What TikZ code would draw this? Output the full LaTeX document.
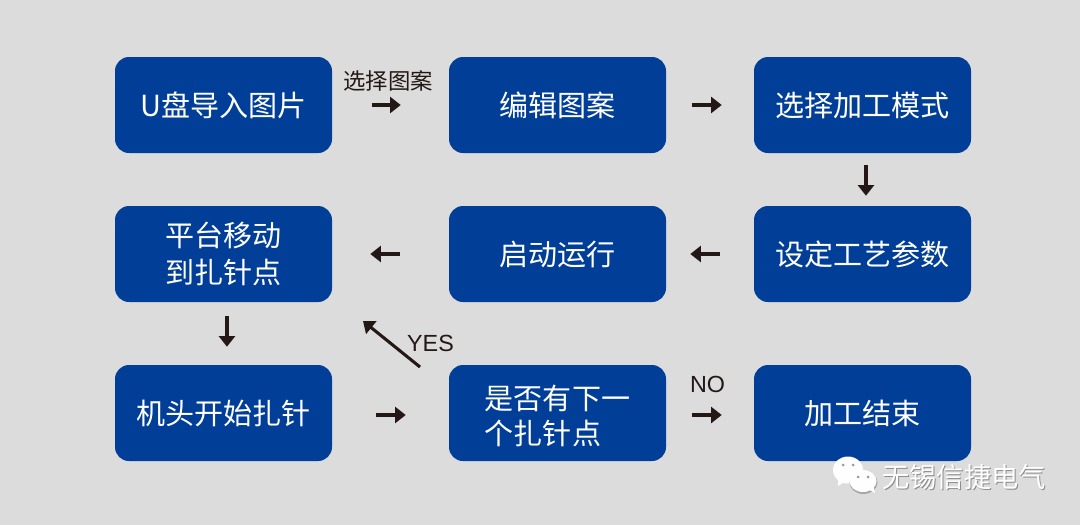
\documentclass[tikz,border=0pt]{standalone}
\usepackage{fontspec}
\setmainfont{Noto Sans CJK SC}
\newfontfamily\latinf{Liberation Sans}
\usetikzlibrary{arrows.meta}
\definecolor{bg}{HTML}{DCDCDC}
\definecolor{boxblue}{HTML}{003E98}
\definecolor{ink}{HTML}{231815}
\newcommand{\lowered}[2]{\raisebox{#1}[\height][\depth]{#2}}
\tikzset{
  x=0.75pt,y=-0.75pt,
  stepbox/.style={draw=none,fill=boxblue,rounded corners=10.5pt,minimum width=162.75pt,minimum height=72pt,inner sep=0pt,text=white,font=\fontsize{21.8pt}{28pt}\selectfont,align=center},
  flow/.style={draw=ink,line width=2.3pt,-{Triangle[length=8pt,width=12pt]}},
  small/.style={text=ink,inner sep=0pt,font=\fontsize{16.8pt}{20pt}\selectfont},
  latin/.style={text=ink,inner sep=0pt,font=\latinf\fontsize{17.5pt}{20pt}\selectfont},
  wm/.style={inner sep=0pt,font=\fontsize{20.5pt}{24pt}\selectfont},
  bubble/.style={fill=white!96!bg,draw=none},
  gap/.style n args={2}{shorten <=#1*0.75pt,shorten >=#2*0.75pt},
}
\begin{document}
\begin{tikzpicture}
\useasboundingbox (0,0) rectangle (1080,525);
\fill[bg] (0,0) rectangle (1080,525);
\node[stepbox] (a) at (223.5,105) {U盘导入图片};
\node[stepbox] (b) at (557.5,105) {编辑图案};
\node[stepbox] (c) at (862.5,105) {选择加工模式};
\node[stepbox] (d) at (862.5,254) {设定工艺参数};
\node[stepbox] (e) at (557.5,254) {启动运行};
\node[stepbox] (f) at (223.5,254) {平台移动\\到扎针点};
\node[stepbox] (g) at (223.5,413) {机头开始扎针};
\node[stepbox,align=left] (h) at (557.5,413) {\lowered{-3pt}{是否有下一}\\\lowered{-1.5pt}{个扎针点}};
\node[stepbox] (i) at (862.5,413) {加工结束};
\node[small] (l1) at (388,81) {选择图案};
\node[latin] (l2) at (430.5,343) {YES};
\node[latin] (l3) at (707.5,384) {NO};
\coordinate (yesfrom) at (420,367);
\coordinate (yesto) at (363,321);
\draw[flow,gap={40}{48}] (a.east) -- (b.west);
\draw[flow,gap={26}{32}] (b.east) -- (c.west);
\draw[flow,gap={12}{10},transform canvas={xshift=2.6pt}] (c.south) -- (d.north);
\draw[flow,gap={34}{24}] (d.west) -- (e.east);
\draw[flow,gap={49}{38}] (e.west) -- (f.east);
\draw[flow,gap={14}{18},transform canvas={xshift=2.6pt}] (f.south) -- (g.north);
\draw[flow,gap={44}{43},transform canvas={yshift=-1.5pt}] (g.east) -- (h.west);
\draw[flow,gap={26}{32},transform canvas={yshift=-1.5pt}] (h.east) -- (i.west);
\draw[flow] (yesfrom) -- (yesto);
% watermark
\fill[bubble] (848,470) ellipse (15 and 13.5);
\fill[bubble] (838,478) -- (846,481) -- (838,486) -- cycle;
\fill[black!35] (863.5,482.5) ellipse (14 and 11.5);
\fill[bubble] (863,481) ellipse (13.5 and 11);
\fill[bubble] (866,488) -- (875,493) -- (873,485) -- cycle;
\foreach \p in {(843,465),(853,465),(858,477),(868,477)} \fill[black!40] \p circle (1.5);
\node[wm,text=black!45] (wmshadow) at (965,478.2) {无锡信捷电气};
\node[wm,text=white] (wmtext) at (964,477) {无锡信捷电气};
\end{tikzpicture}
\end{document}
